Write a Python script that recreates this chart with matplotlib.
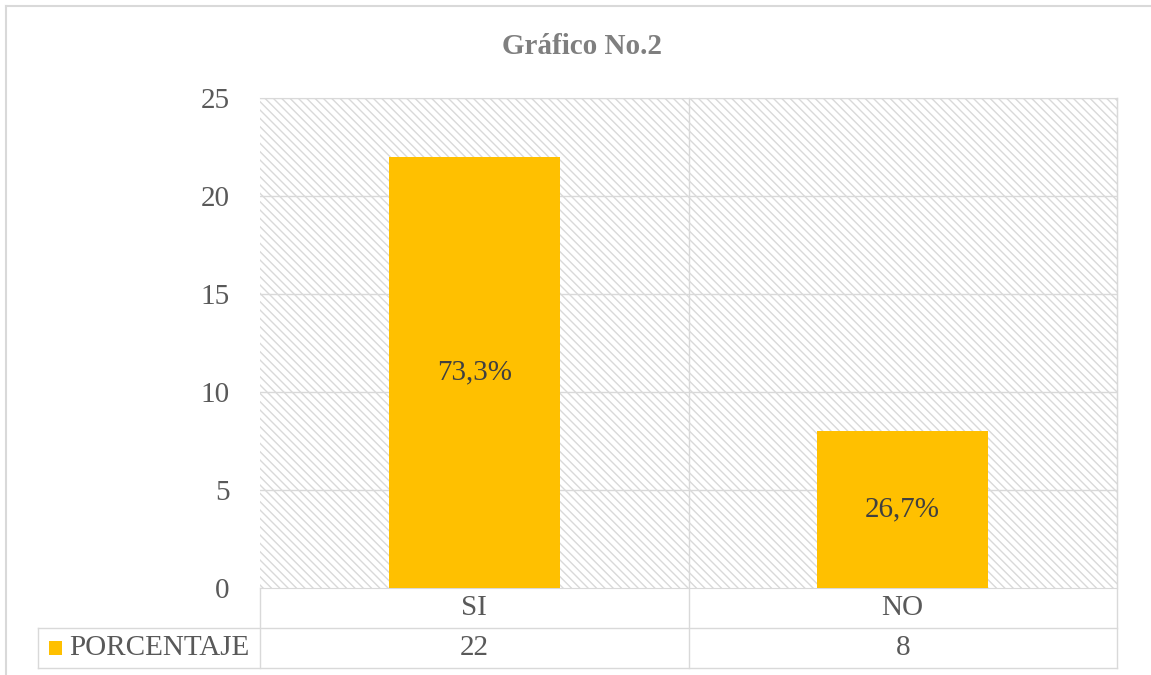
import matplotlib
matplotlib.use('Agg')
import matplotlib.pyplot as plt
from matplotlib.patches import Rectangle
from matplotlib.lines import Line2D

categories = ['SI', 'NO']
values = [22, 8]
percent_labels = ['73,3%', '26,7%']
series_name = 'PORCENTAJE'
yticks = [0, 5, 10, 15, 20, 25]

plt.rcParams['font.family'] = ['Liberation Serif', 'DejaVu Serif']
plt.rcParams['hatch.linewidth'] = 1.0

text_col = '#595959'
grid_col = '#d9d9d9'
bar_col = '#FFC000'

fig = plt.figure(figsize=(11.51, 6.75), dpi=100)
ax = fig.add_axes([260/1151, 1-588/675, 857/1151, 490/675])

# hatched plot area background
ax.add_patch(Rectangle((0, 0), 1, 1, transform=ax.transAxes, facecolor='white',
                       edgecolor=grid_col, linewidth=0, hatch='\\\\\\\\', zorder=0))

x = range(len(categories))
bars = ax.bar(x, values, width=0.4, color=bar_col, zorder=3)
ax.bar_label(bars, labels=percent_labels, label_type='center', fontsize=21, color='#404040')

ax.set_xlim(-0.5, len(categories) - 0.5)
ax.set_ylim(0, 25)
ax.set_yticks(yticks)
ax.set_yticklabels([str(t) for t in yticks], fontsize=21, color=text_col)
ax.tick_params(axis='y', length=0, pad=22)
ax.tick_params(axis='x', length=0, labelbottom=False)
for t in yticks[1:]:
    ax.axhline(t, color=grid_col, lw=1, zorder=1)
for s in ax.spines.values():
    s.set_color(grid_col)
ax.spines['left'].set_visible(False)

# data table under the plot (drawn by hand)
lab_w = 222/857
row_h = 40/490
ta = ax.transAxes
tx = ax.get_xaxis_transform()
line_kw = dict(color=grid_col, lw=1, clip_on=False, zorder=2)
for yy, x0 in [(-row_h, -lab_w), (-2*row_h, -lab_w)]:
    ax.add_line(Line2D([x0, 1], [yy, yy], transform=ta, **line_kw))
ax.add_line(Line2D([-lab_w, -lab_w], [-2*row_h, -row_h], transform=ta, **line_kw))
for xx in [0, 1]:
    ax.add_line(Line2D([xx, xx], [-2*row_h, 0 if xx == 0 else 1], transform=ta, **line_kw))
for i in range(len(categories) - 1):
    ax.add_line(Line2D([i + 0.5, i + 0.5], [-2*row_h, 1], transform=tx, **line_kw))
for i, (cat, v) in enumerate(zip(categories, values)):
    ax.text(i, -row_h/2, cat, transform=tx, ha='center', va='center',
            fontsize=21, color=text_col)
    ax.text(i, -1.5*row_h, str(v), transform=tx, ha='center', va='center',
            fontsize=21, color=text_col)
ax.add_patch(Rectangle((-lab_w + 11/857, -1.5*row_h - 7/490), 13/857, 14/490,
                       transform=ta, facecolor=bar_col, edgecolor='none',
                       clip_on=False, zorder=5))
ax.text(-lab_w + 31/857, -1.5*row_h, series_name, transform=ta, ha='left', va='center',
        fontsize=21, color=text_col)

fig.text(582/1151, 1-47/675, 'Gráfico No.2', ha='center', va='center',
         fontsize=21, fontweight='bold', color='#7f7f7f')

# chart frame (top and left edges)
fig.add_artist(Line2D([6/1151, 1], [1-6/675, 1-6/675], color=grid_col, lw=1.5))
fig.add_artist(Line2D([6/1151, 6/1151], [0, 1-6/675], color=grid_col, lw=1.5))

fig.savefig('out.png', dpi=100)
